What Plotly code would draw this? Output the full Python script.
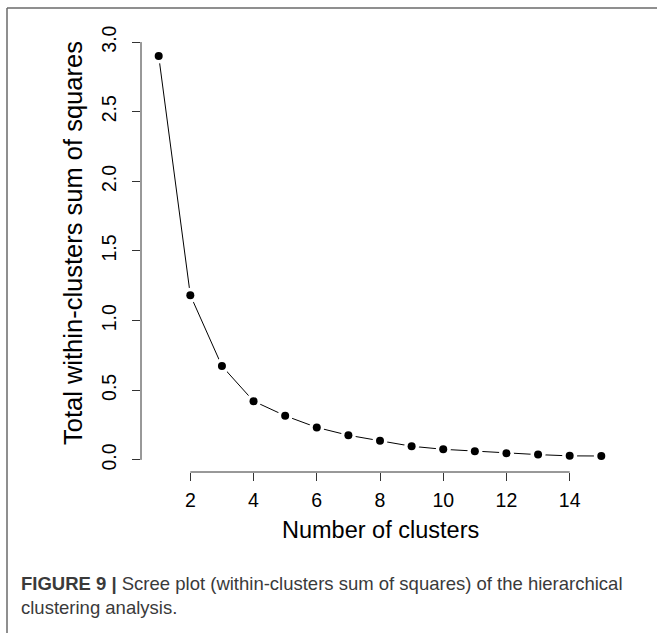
import plotly.graph_objects as go

# ---- data ----
clusters = list(range(1, 16))
wss = [2.90, 1.183, 0.674, 0.422, 0.317, 0.233, 0.177, 0.137, 0.098,
       0.076, 0.062, 0.048, 0.038, 0.029, 0.028]
x_ticks = [2, 4, 6, 8, 10, 12, 14]
y_ticks = [0.0, 0.5, 1.0, 1.5, 2.0, 2.5, 3.0]
y_tick_text = ["0.0", "0.5", "1.0", "1.5", "2.0", "2.5", "3.0"]
x_title = "Number of clusters"
y_title = "Total within-clusters sum of squares"
caption_bold = "FIGURE 9 |"
caption_rest = " Scree plot (within-clusters sum of squares) of the hierarchical<br>clustering analysis."

W, H = 657, 633
L, R, T, B = 141, 38, 40, 161
pw, ph = W - L - R, H - T - B

def span(lo, hi):
    d = hi - lo
    return [lo - 0.04 * d, hi + 0.04 * d]

xr = span(min(clusters), max(clusters))
yr = span(min(wss), max(wss))

FONT = "Liberation Sans, Arial, sans-serif"
AX = "#333333"

fig = go.Figure()
fig.add_trace(go.Scatter(x=clusters, y=wss, mode="lines",
                         line=dict(color="black", width=1), hoverinfo="skip"))
fig.add_trace(go.Scatter(x=clusters, y=wss, mode="markers",
                         marker=dict(color="white", size=15, line=dict(width=0)),
                         hoverinfo="skip"))
fig.add_trace(go.Scatter(x=clusters, y=wss, mode="markers",
                         marker=dict(color="black", size=8, line=dict(width=0))))

fig.update_xaxes(range=xr, tickmode="array", tickvals=x_ticks,
                 ticktext=[str(v) for v in x_ticks],
                 ticks="outside", ticklen=8, tickwidth=1, tickcolor=AX,
                 showline=False, showgrid=False, zeroline=False,
                 tickfont=dict(family=FONT, size=19.5, color="black"),
                 ticklabelstandoff=3)
fig.update_yaxes(range=yr, tickmode="array", tickvals=y_ticks,
                 ticktext=y_tick_text, tickangle=-90,
                 ticks="outside", ticklen=8, tickwidth=1, tickcolor=AX,
                 showline=False, showgrid=False, zeroline=False,
                 tickfont=dict(family=FONT, size=19.5, color="black"),
                 ticklabelstandoff=8)

# R-style axis lines spanning first to last tick
fig.add_shape(type="line", xref="x", yref="paper", x0=x_ticks[0], x1=x_ticks[-1],
              y0=0, y1=0, line=dict(color=AX, width=1))
fig.add_shape(type="line", xref="paper", yref="y", x0=0, x1=0,
              y0=y_ticks[0], y1=y_ticks[-1], line=dict(color=AX, width=1))

# outer frame (left and top)
def px(x):
    return (x - L) / pw
def py(y):
    return 1 - (y - T) / ph
fig.add_shape(type="line", xref="paper", yref="paper", x0=px(7), x1=px(7),
              y0=py(8), y1=py(640), line=dict(color="#6a6a6a", width=1.5))
fig.add_shape(type="line", xref="paper", yref="paper", x0=px(7), x1=px(660),
              y0=py(8), y1=py(8), line=dict(color="#6a6a6a", width=1.5))

# axis titles
fig.add_annotation(text=x_title, xref="paper", yref="paper", x=0.5, y=py(530),
                   showarrow=False, xanchor="center", yanchor="middle",
                   font=dict(family=FONT, size=23.5, color="black"))
fig.add_annotation(text=y_title, xref="paper", yref="paper", x=px(73), y=py(243),
                   showarrow=False, xanchor="center", yanchor="middle", textangle=-90,
                   font=dict(family=FONT, size=25.5, color="black"))

# caption
fig.add_annotation(text="<b>" + caption_bold + "</b>" + caption_rest,
                   xref="paper", yref="paper", x=px(19), y=py(571),
                   showarrow=False, xanchor="left", yanchor="top", align="left",
                   font=dict(family=FONT, size=18.5, color="#3a3a3a"))

fig.update_layout(width=W, height=H, margin=dict(l=L, r=R, t=T, b=B, autoexpand=False),
                  plot_bgcolor="white", paper_bgcolor="white", showlegend=False)

fig.write_html("out.html")
